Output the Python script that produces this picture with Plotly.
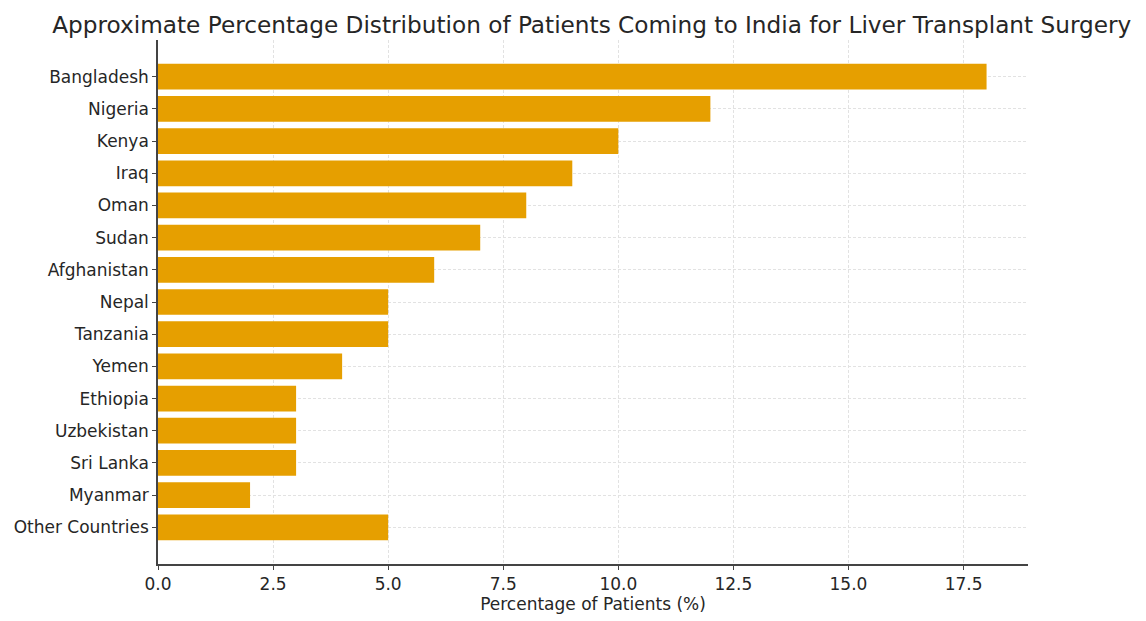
import plotly.graph_objects as go

# Countries (top to bottom) and their approximate share of patients
countries = ["Bangladesh", "Nigeria", "Kenya", "Iraq", "Oman", "Sudan", "Afghanistan",
             "Nepal", "Tanzania", "Yemen", "Ethiopia", "Uzbekistan", "Sri Lanka",
             "Myanmar", "Other Countries"]
percentages = [18, 12, 10, 9, 8, 7, 6, 5, 5, 4, 3, 3, 3, 2, 5]
tick_vals = [0, 2.5, 5, 7.5, 10, 12.5, 15, 17.5]
tick_text = ["0.0", "2.5", "5.0", "7.5", "10.0", "12.5", "15.0", "17.5"]

fig = go.Figure(go.Bar(
    x=percentages,
    y=countries,
    orientation="h",
    marker=dict(color="#E69F00", line=dict(width=0)),
))

# page body has an 8px margin, so the figure is a bit smaller than the window
fig.update_layout(
    width=1138, height=613,
    paper_bgcolor="white", plot_bgcolor="white",
    font=dict(family="DejaVu Sans", size=17, color="#262626"),
    title=dict(text="Approximate Percentage Distribution of Patients Coming to India for Liver Transplant Surgery",
               x=0.513, xanchor="center", y=0.972, yanchor="middle",
               font=dict(size=23.2, color="#262626")),
    margin=dict(l=150, r=118, t=32, b=57),
    bargap=0.2,
    showlegend=False,
)

fig.update_xaxes(
    range=[0, 18.9],
    tickvals=tick_vals, ticktext=tick_text,
    showline=True, linecolor="#444", linewidth=1.5,
    ticks="outside", ticklen=4, tickcolor="#444",
    showgrid=True, gridcolor="#e2e2e2", griddash="3px,2px", gridwidth=1,
    zeroline=False, automargin=False,
    title=dict(text="Percentage of Patients (%)", font=dict(size=17), standoff=4),
)

fig.update_yaxes(
    categoryorder="array", categoryarray=countries,
    range=[15.14, -1.14],
    showline=True, linecolor="#444", linewidth=1.5,
    ticks="outside", ticklen=4, tickcolor="#444",
    showgrid=True, gridcolor="#e2e2e2", griddash="3px,2px", gridwidth=1,
    zeroline=False, automargin=False,
)

fig.write_html("out.html")
